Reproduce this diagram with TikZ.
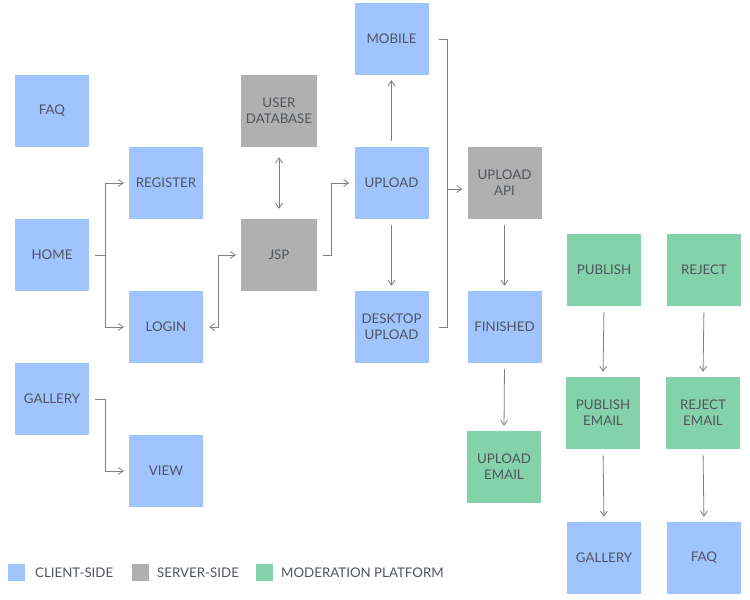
\documentclass[tikz,border=0pt]{standalone}
\usepackage{fontspec}
\setmainfont{Lato}
\usetikzlibrary{arrows.meta}
\definecolor{clientblue}{HTML}{A0C4FF}
\definecolor{servergray}{HTML}{B0B0B0}
\definecolor{modgreen}{HTML}{84D2AA}
\definecolor{linegray}{HTML}{7F7F7F}
\definecolor{textgray}{HTML}{50555C}

\begin{document}
\begin{tikzpicture}[x=1pt,y=-1pt,
    >={Straight Barb[length=5pt,width=7pt]},
    box/.style={minimum width=74pt,minimum height=72pt,inner sep=0pt,align=center,
        text=textgray,font=\fontsize{13.3}{16}\selectfont},
    client/.style={box,fill=clientblue},
    server/.style={box,fill=servergray},
    moderation/.style={box,fill=modgreen},
    link/.style={->,draw=linegray,line width=0.8pt,shorten <=6pt,shorten >=5pt},
    key/.style={minimum size=17pt,inner sep=0pt},
    keytext/.style={right,inner sep=0pt,text=textgray,font=\fontsize{13.3}{16}\selectfont}]
    \useasboundingbox (0,0) rectangle (750,600);

    % client pages
    \node [client] (faq) at (52,111) {FAQ};
    \node [client] (home) at (52,255) {HOME};
    \node [client] (gallery) at (52,399) {GALLERY};
    \node [client] (register) at (166,183) {REGISTER};
    \node [client] (login) at (166,327) {LOGIN};
    \node [client] (view) at (166,471) {VIEW};
    \node [server, minimum width=76pt] (userdb) at (279,111) {USER\\DATABASE};
    \node [server, minimum width=76pt] (jsp) at (279,255) {JSP};
    \node [client] (mobile) at (391.5,39) {MOBILE};
    \node [client] (upload) at (391.5,183) {UPLOAD};
    \node [client] (desktop) at (391.5,327) {DESKTOP\\UPLOAD};
    \node [server] (api) at (504.5,183) {UPLOAD\\API};
    \node [client] (finished) at (504.5,327) {FINISHED};
    \node [moderation] (uploademail) at (504,467) {UPLOAD\\EMAIL};

    % moderation platform
    \node [moderation] (publish) at (604,270) {PUBLISH};
    \node [moderation] (reject) at (704,270) {REJECT};
    \node [moderation] (publishemail) at (603,413) {PUBLISH\\EMAIL};
    \node [moderation] (rejectemail) at (703,413) {REJECT\\EMAIL};
    \node [client] (gallerytwo) at (604,558) {GALLERY};
    \node [client] (faqtwo) at (704,558) {FAQ};

    \draw [link] (home.east) -- ++(16,0) |- (register.west);
    \draw [link] (home.east) -- ++(16,0) |- (login.west);
    \draw [link] (gallery.east) -- ++(16,0) |- (view.west);
    \draw [link,<->] (login.east) -- ++(15,0) |- (jsp.west);
    \draw [link,<->,shorten <=10pt,shorten >=10pt] (userdb.south) -- (jsp.north);
    \draw [link] (jsp.east) -- ++(14,0) |- (upload.west);
    \draw [link] (upload.north) -- (mobile.south);
    \draw [link] (upload.south) -- (desktop.north);
    \draw [linegray,line width=0.8pt,shorten <=10pt,shorten >=10pt]
        (mobile.east) -- ++(19,0) coordinate (merge) |- (desktop.east);
    \coordinate (apiin) at ([yshift=-6pt]api.west);
    \draw [link,shorten <=0pt] (merge |- apiin) -- (apiin);
    \draw [link] (api.south) -- (finished.north);
    \draw [link] (finished.south) -- (uploademail.north);
    \draw [link] (publish.south) -- (publishemail.north);
    \draw [link] (reject.south) -- (rejectemail.north);
    \draw [link] (publishemail.south) -- (gallerytwo.north);
    \draw [link] (rejectemail.south) -- (faqtwo.north);

    % legend
    \node [key,fill=clientblue] (keyclient) at (16.5,572.5) {};
    \node [keytext] (keyclienttext) at (35,572.5) {CLIENT-SIDE};
    \node [key,fill=servergray] (keyserver) at (140,572.5) {};
    \node [keytext] (keyservertext) at (157,572.5) {SERVER-SIDE};
    \node [key,fill=modgreen] (keymod) at (264.5,572.5) {};
    \node [keytext] (keymodtext) at (281,572.5) {MODERATION PLATFORM};
\end{tikzpicture}
\end{document}
